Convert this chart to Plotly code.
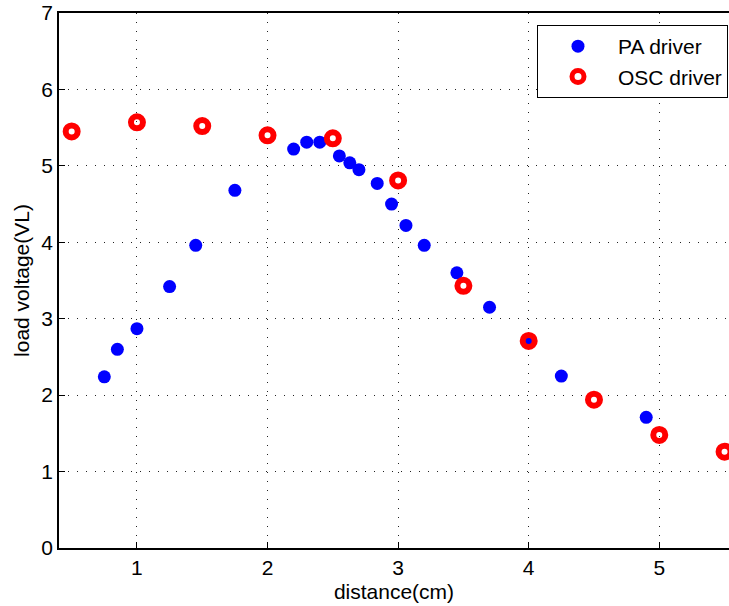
import plotly.graph_objects as go

pa_x = [0.75, 0.85, 1.0, 1.25, 1.45, 1.75, 2.2, 2.3, 2.4, 2.55, 2.63, 2.7, 2.84, 2.95, 3.06, 3.2, 3.45, 3.7, 4.0, 4.25, 4.9]
pa_y = [2.24, 2.60, 2.87, 3.42, 3.96, 4.68, 5.22, 5.31, 5.31, 5.13, 5.04, 4.95, 4.77, 4.50, 4.22, 3.96, 3.60, 3.15, 2.71, 2.25, 1.71]

osc_x = [0.5, 1.0, 1.5, 2.0, 2.5, 3.0, 3.5, 4.0, 4.5, 5.0, 5.5]
osc_y = [5.45, 5.57, 5.52, 5.40, 5.36, 4.81, 3.43, 2.71, 1.94, 1.48, 1.26]

x_ticks = [1, 2, 3, 4, 5]
y_ticks = [0, 1, 2, 3, 4, 5, 6, 7]

FONT = "Liberation Sans, Arial, Helvetica, sans-serif"

fig = go.Figure()
fig.add_trace(go.Scatter(
    x=pa_x, y=pa_y, mode="markers", name="PA driver",
    marker=dict(symbol="circle", size=13, color="#0000ff", line=dict(width=0)),
    cliponaxis=False,
))
fig.add_trace(go.Scatter(
    x=osc_x, y=osc_y, mode="markers", name="OSC driver",
    marker=dict(symbol="circle-open", size=12, color="#ff0000", line=dict(width=6, color="#ff0000")),
    cliponaxis=False,
))

axis_common = dict(
    showline=True, linecolor="black", linewidth=1.5,
    ticks="inside", ticklen=6, tickcolor="black", tickwidth=1,
    showgrid=True, gridcolor="#222", gridwidth=1, griddash="1px,8px",
    zeroline=False,
    tickfont=dict(family=FONT, size=21, color="black"),
    title_font=dict(family=FONT, size=21, color="black"),
)

fig.update_xaxes(
    range=[0.403, 5.534], tickvals=x_ticks, ticktext=[str(v) for v in x_ticks],
    mirror=True, title_text="distance(cm)", title_standoff=6,
    **axis_common,
)
fig.update_yaxes(
    range=[0, 7], tickvals=y_ticks, ticktext=[str(v) for v in y_ticks],
    mirror=False, title_text="load voltage(VL)", title_standoff=6,
    **axis_common,
)

fig.update_layout(
    width=729, height=606,
    margin=dict(l=59, r=0, t=13, b=58),
    paper_bgcolor="white", plot_bgcolor="white",
    font=dict(family=FONT, size=21, color="black"),
    showlegend=True,
    legend=dict(
        x=0.9985, y=0.9776, xanchor="right", yanchor="top",
        bgcolor="white", bordercolor="black", borderwidth=1,
        font=dict(family=FONT, size=21, color="black"),
        itemwidth=70, tracegroupgap=0,
    ),
)

fig.write_html("out.html")
